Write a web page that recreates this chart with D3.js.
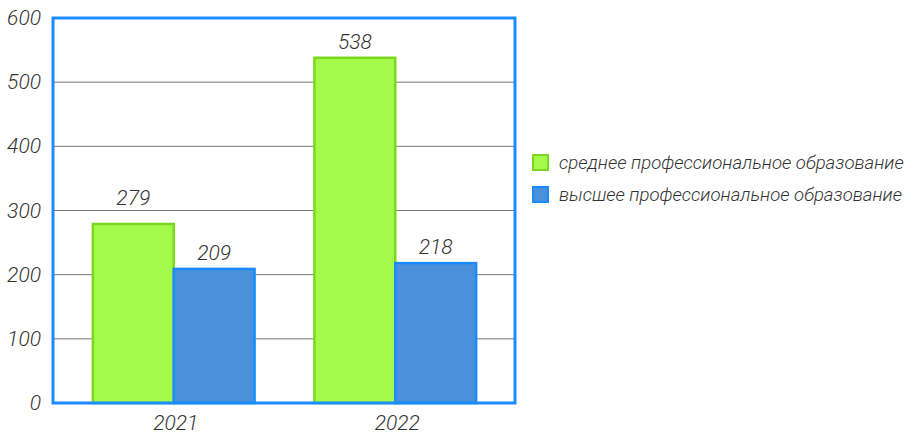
<!DOCTYPE html>
<html>
<head>
<meta charset="utf-8">
<script src="https://cdn.jsdelivr.net/npm/d3@7"></script>
<style>
  html, body { margin: 0; padding: 0; background: #fff; }
  svg text { font-family: "Roboto", "DejaVu Sans Condensed", sans-serif; font-style: italic; font-weight: 300; fill: #333; }
</style>
</head>
<body>
<svg id="chart" width="913" height="434"></svg>
<script>
// данные
const years = ['2021', '2022'];
const seriesNames = ['среднее профессиональное образование', 'высшее профессиональное образование'];
const spoValues = [279, 538];
const vpoValues = [209, 218];
const yTicks = [0, 100, 200, 300, 400, 500, 600];

const fills = ['#a4fa4b', '#4b90db'];
const strokes = ['#7ad81e', '#1a8cff'];

const svg = d3.select('#chart');
const plot = { left: 53, right: 515, top: 18, bottom: 403 };

const x = d3.scaleBand()
  .domain(years)
  .range([plot.left, plot.right + 1])
  .paddingInner(0.27)
  .paddingOuter(0.18);

const xInner = d3.scaleBand()
  .domain([0, 1])
  .range([0, x.bandwidth()]);

const y = d3.scaleLinear()
  .domain([0, 600])
  .range([plot.bottom, plot.top]);

// сетка
svg.append('g')
  .selectAll('line')
  .data(yTicks.slice(1, -1))
  .join('line')
  .attr('x1', plot.left)
  .attr('x2', plot.right)
  .attr('y1', d => y(d))
  .attr('y2', d => y(d))
  .attr('stroke', '#777')
  .attr('stroke-width', 1);

const rows = years.map((yr, i) => ({ year: yr, values: [spoValues[i], vpoValues[i]] }));

const groups = svg.append('g')
  .selectAll('g')
  .data(rows)
  .join('g')
  .attr('transform', d => `translate(${x(d.year)},0)`);

groups.selectAll('rect')
  .data(d => d.values.map((v, k) => ({ v, k })))
  .join('rect')
  .attr('x', d => xInner(d.k))
  .attr('y', d => y(d.v))
  .attr('width', xInner.bandwidth())
  .attr('height', d => plot.bottom - y(d.v))
  .attr('fill', d => fills[d.k])
  .attr('stroke', d => strokes[d.k])
  .attr('stroke-width', 2.5);

// подпись 279 в оригинале поднята над линией сетки
const labelGap = (v) => v === 279 ? 19 : 9;

groups.selectAll('text')
  .data(d => d.values.map((v, k) => ({ v, k })))
  .join('text')
  .attr('x', d => xInner(d.k) + xInner.bandwidth() / 2)
  .attr('y', d => y(d.v) - labelGap(d.v))
  .attr('text-anchor', 'middle')
  .attr('font-size', 21)
  .text(d => d.v);

// рамка области построения
svg.append('rect')
  .attr('x', plot.left)
  .attr('y', plot.top)
  .attr('width', plot.right - plot.left)
  .attr('height', plot.bottom - plot.top)
  .attr('fill', 'none')
  .attr('stroke', '#1a8cff')
  .attr('stroke-width', 3);

// подписи оси Y
svg.append('g')
  .selectAll('text')
  .data(yTicks)
  .join('text')
  .attr('x', 41)
  .attr('y', d => y(d) + 7)
  .attr('text-anchor', 'end')
  .attr('font-size', 21)
  .text(d => d);

// подписи оси X
svg.append('g')
  .selectAll('text')
  .data(years)
  .join('text')
  .attr('x', d => x(d) + x.bandwidth() / 2 + 2)
  .attr('y', 430)
  .attr('text-anchor', 'middle')
  .attr('font-size', 21)
  .text(d => d);

// легенда
const legend = svg.append('g')
  .selectAll('g')
  .data(seriesNames)
  .join('g')
  .attr('transform', (d, i) => `translate(533,${155 + i * 32})`);

legend.append('rect')
  .attr('width', 15)
  .attr('height', 15)
  .attr('fill', (d, i) => fills[i])
  .attr('stroke', (d, i) => strokes[i])
  .attr('stroke-width', 2);

const legendText = legend.append('text')
  .attr('x', 26)
  .attr('y', 14)
  .attr('font-size', 20)
  .text(d => d);

// подгоняем размер шрифта, чтобы первая строка заканчивалась около x=906
const w0 = legendText.node().getComputedTextLength();
const fs = Math.min(20, 20 * 345 / w0);
legendText.attr('font-size', fs);
</script>
</body>
</html>
